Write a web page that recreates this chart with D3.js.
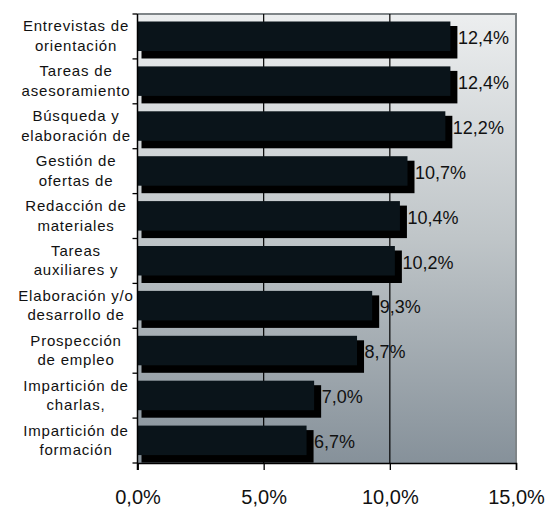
<!DOCTYPE html>
<html>
<head>
<meta charset="utf-8">
<script src="https://cdn.jsdelivr.net/npm/d3@7"></script>
<style>
  body { margin: 0; background: #fff; }
  text { font-family: "Liberation Sans", Arial, sans-serif; fill: #111; }
</style>
</head>
<body>
<script>
// datos
var categories = [
    ['Entrevistas de', 'orientación'],
    ['Tareas de', 'asesoramiento'],
    ['Búsqueda y', 'elaboración de'],
    ['Gestión de', 'ofertas de'],
    ['Redacción de', 'materiales'],
    ['Tareas', 'auxiliares y'],
    ['Elaboración y/o', 'desarrollo de'],
    ['Prospección', 'de empleo'],
    ['Impartición de', 'charlas,'],
    ['Impartición de', 'formación']
];
var values = [12.4, 12.4, 12.2, 10.7, 10.4, 10.2, 9.3, 8.7, 7.0, 6.7];
var ticks = [0, 5, 10, 15];

var W = 548, H = 508;
// ojo: "top" es window.top, no se puede usar
var plotL = 137.5, plotR = 516, plotT = 14, plotB = 463;

var svg = d3.select('body').append('svg')
    .attr('width', W)
    .attr('height', H);

var x = d3.scaleLinear().domain([0, 15]).range([plotL, plotR]);
var y = d3.scaleBand().domain(d3.range(values.length)).range([plotT, plotB]);
var fmt = function(v){ return d3.format('.1f')(v).replace('.', ',') + '%'; };

// fondo degradado
var grad = svg.append('defs').append('linearGradient')
    .attr('id', 'bg')
    .attr('x1', 0).attr('y1', 0).attr('x2', 0).attr('y2', 1);
grad.append('stop').attr('offset', '0%').attr('stop-color', '#eceeef');
grad.append('stop').attr('offset', '50%').attr('stop-color', '#bfc5c8');
grad.append('stop').attr('offset', '100%').attr('stop-color', '#86919a');

svg.append('rect')
    .attr('x', plotL).attr('y', plotT)
    .attr('width', plotR - plotL).attr('height', plotB - plotT)
    .style('fill', 'url(#bg)');

// borde gris arriba y derecha
svg.append('path')
    .attr('d', 'M' + plotL + ',' + plotT + 'H' + plotR + 'V' + plotB)
    .style('fill', 'none')
    .style('stroke', '#7f8588')
    .style('stroke-width', 2);

// lineas de division
svg.selectAll('.grid')
    .data([5, 10])
    .enter()
    .append('line')
    .attr('class', 'grid')
    .attr('x1', function(d){ return x(d); })
    .attr('x2', function(d){ return x(d); })
    .attr('y1', plotT).attr('y2', plotB)
    .style('stroke', '#000')
    .style('stroke-width', 1.2);

// barras: sombra + cara
var bars = svg.selectAll('.bar')
    .data(values)
    .enter()
    .append('g')
    .attr('class', 'bar')
    .attr('transform', function(d, i){ return 'translate(0,' + y(i) + ')'; });

bars.append('rect')
    .attr('x', plotL + 4)
    .attr('y', 12)
    .attr('width', function(d){ return x(d) + 7 - plotL - 4; })
    .attr('height', 32.5)
    .style('fill', '#000');

bars.append('rect')
    .attr('x', plotL)
    .attr('y', 7.5)
    .attr('width', function(d){ return x(d) - plotL; })
    .attr('height', 29.5)
    .style('fill', '#0a141a');

bars.append('text')
    .attr('x', function(d){ return x(d) + 7.5; })
    .attr('y', 30)
    .style('font-size', '18px')
    .text(function(d){ return fmt(d); });

// eje y
var yAxis = svg.append('g');
yAxis.append('line')
    .attr('x1', plotL).attr('x2', plotL)
    .attr('y1', plotT).attr('y2', plotB + 7)
    .style('stroke', '#000').style('stroke-width', 1.5);
yAxis.selectAll('.ytick')
    .data(d3.range(values.length + 1))
    .enter()
    .append('line')
    .attr('x1', plotL - 5).attr('x2', plotL)
    .attr('y1', function(d){ return plotT + d * y.step(); })
    .attr('y2', function(d){ return plotT + d * y.step(); })
    .style('stroke', '#000').style('stroke-width', 1.3);

svg.selectAll('.cat')
    .data(categories)
    .enter()
    .append('text')
    .attr('class', 'cat')
    .attr('text-anchor', 'middle')
    .style('font-size', '15px')
    .style('letter-spacing', '0.8px')
    .attr('transform', function(d, i){ return 'translate(76,' + (y(i) + y.bandwidth() / 2) + ')'; })
    .selectAll('tspan')
    .data(function(d){ return d; })
    .enter()
    .append('tspan')
    .attr('x', 0)
    .attr('y', function(d, j){ return j === 0 ? -5 : 14.5; })
    .text(function(d){ return d; });

// eje x
var xAxis = svg.append('g')
    .attr('transform', 'translate(0,' + plotB + ')')
    .call(d3.axisBottom(x).tickValues(ticks).tickSize(7).tickFormat(fmt));
xAxis.select('.domain').style('stroke', '#000').style('stroke-width', 1.5);
xAxis.selectAll('.tick line').style('stroke', '#000').style('stroke-width', 1.3);
xAxis.selectAll('.tick text')
    .attr('y', 41)
    .attr('dy', 0)
    .style('font-family', '"Liberation Sans", Arial, sans-serif')
    .style('font-size', '20px')
    .style('fill', '#111');
</script>
</body>
</html>
